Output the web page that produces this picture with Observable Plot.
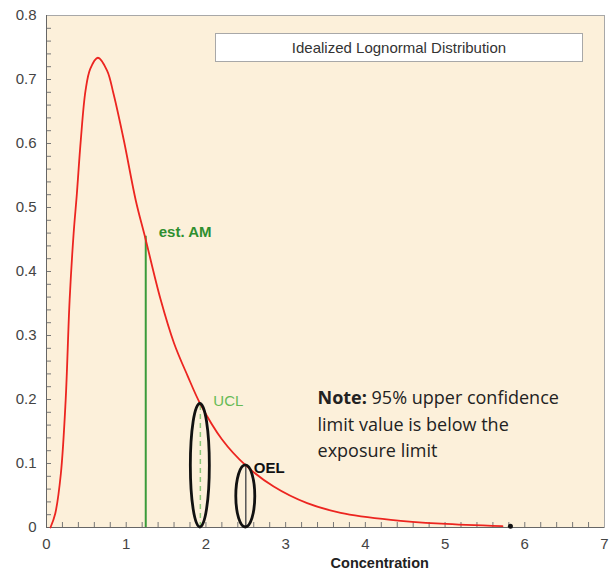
<!DOCTYPE html>
<html><head><meta charset="utf-8">
<script src="https://cdn.jsdelivr.net/npm/d3@7"></script>
<script src="https://cdn.jsdelivr.net/npm/@observablehq/plot@0.6"></script>
<style>
body{margin:0;background:#fff;}
#wrap{position:relative;width:614px;height:573px;}
#legend{position:absolute;left:215px;top:33px;width:366px;height:27px;border:1px solid #a8a8a8;background:#fff;font:15px "Liberation Sans",Arial,sans-serif;color:#333;text-align:center;line-height:27px;}
</style></head><body>
<div id="wrap"></div>
<script>
// Curve points
const curveX = [0.05, 0.11, 0.18, 0.24, 0.29, 0.34, 0.38, 0.43, 0.49, 0.55, 0.645, 0.76, 0.84, 0.97, 1.12, 1.24, 1.43, 1.6, 1.77, 1.93, 2.2, 2.5, 2.85, 3.27, 3.69, 4.32, 4.95, 5.72];
const curveY = [0, 0.022, 0.084, 0.198, 0.355, 0.459, 0.52, 0.605, 0.683, 0.717, 0.734, 0.714, 0.678, 0.605, 0.511, 0.452, 0.357, 0.288, 0.237, 0.193, 0.138, 0.097, 0.064, 0.038, 0.023, 0.012, 0.006, 0.002];

const markerNames = ["est. AM", "UCL", "OEL"];
const markerX = [1.245, 1.93, 2.5];
const markerTop = [0.455, 0.193, 0.097];
const tailDotX = [5.82];
const tailDotY = [0.002];

const xTicks = [0, 1, 2, 3, 4, 5, 6, 7];
const xTickLabels = ["0", "1", "2", "3", "4", "5", "6", "7"];
const yTicks = [0, 0.1, 0.2, 0.3, 0.4, 0.5, 0.6, 0.7, 0.8];
const yTickLabels = ["0", "0.1", "0.2", "0.3", "0.4", "0.5", "0.6", "0.7", "0.8"];
const xMinor = d3.range(0, 36).map(i => i / 5);
const yMinor = d3.range(0, 41).map(i => i / 50);

const legendTitle = "Idealized Lognormal Distribution";
const xLabel = "Concentration";
const noteLines = ["Note: 95% upper confidence", "limit value is below the", "exposure limit"];

const curve = curveX.map((x, i) => ({x, y: curveY[i]}));
const markers = markerNames.map((name, i) => ({name, x: markerX[i], top: markerTop[i]}));
const xLab = new Map(xTicks.map((t, i) => [t, xTickLabels[i]]));
const yLab = new Map(yTicks.map((t, i) => [t, yTickLabels[i]]));

function ellipses(items) {
  return (index, scales) => {
    const g = d3.create("svg:g");
    for (const e of items) {
      const cx = scales.x(e.x), y0 = scales.y(0), y1 = scales.y(e.top);
      g.append("ellipse")
        .attr("cx", cx).attr("cy", (y0 + y1) / 2)
        .attr("rx", 9.5).attr("ry", Math.abs(y0 - y1) / 2)
        .attr("fill", "none").attr("stroke", "#111").attr("stroke-width", 2.8);
    }
    return g.node();
  };
}

const plot = Plot.plot({
  width: 614, height: 573,
  marginLeft: 46, marginRight: 10, marginTop: 15, marginBottom: 46,
  x: {domain: [0, 7]},
  y: {domain: [0, 0.8]},
  style: {fontFamily: "'Liberation Sans', Arial, sans-serif", fontSize: "15px", color: "#444", background: "transparent"},
  marks: [
    Plot.frame({fill: "#fcf0da", stroke: "none"}),
    Plot.axisY(yMinor, {tickSize: -5, text: null, stroke: "#777", label: null}),
    Plot.axisY(yTicks, {tickSize: 0, tickPadding: 10, tickFormat: d => yLab.get(d), label: null}),
    Plot.axisX(xMinor, {tickSize: -5, text: null, stroke: "#777", label: null}),
    Plot.axisX(xTicks, {tickSize: 0, tickPadding: 11, tickFormat: d => xLab.get(d), label: null}),
    Plot.frame({stroke: "#a8a8a8"}),
    Plot.ruleY([0], {stroke: "#666"}),
    Plot.ruleX([0], {stroke: "#666"}),
    Plot.ruleX([markers[0]], {x: "x", y1: 0, y2: "top", stroke: "#3a9b3a", strokeWidth: 2}),
    Plot.ruleX([markers[1]], {x: "x", y1: 0, y2: "top", stroke: "#8cc97a", strokeWidth: 1.5, strokeDasharray: "5,4"}),
    Plot.ruleX([markers[2]], {x: "x", y1: 0, y2: "top", stroke: "#555", strokeWidth: 1.5}),
    Plot.line(curve, {x: "x", y: "y", stroke: "#ec2520", strokeWidth: 1.8, curve: "catmull-rom"}),
    ellipses(markers.slice(1)),
    Plot.dot(tailDotX.map((x, i) => ({x, y: tailDotY[i]})), {x: "x", y: "y", r: 2.5, fill: "#111"}),
    Plot.text([markers[0]], {x: "x", y: "top", text: "name", dx: 13, dy: -4, textAnchor: "start", fill: "#2f8f2f", fontWeight: "bold", fontSize: 15}),
    Plot.text([markers[1]], {x: "x", y: "top", text: "name", dx: 13, dy: -3, textAnchor: "start", fill: "#66bb55", fontSize: 15}),
    Plot.text([markers[2]], {x: "x", y: "top", text: "name", dx: 8, dy: 3, textAnchor: "start", fill: "#111", fontWeight: "bold", fontSize: 15}),
    Plot.text([{x: 3.40, y: 0.222, t: noteLines.join("\n")}], {x: "x", y: "y", text: "t", lineAnchor: "top", textAnchor: "start", fontFamily: "'Open Sans', Lato, sans-serif", fontSize: 18, lineHeight: 1.47, fill: "#222"}),
    Plot.text([{x: 4.18}], {x: "x", text: () => xLabel, frameAnchor: "bottom", dy: 40, fontWeight: "bold", fontSize: 14.5, fill: "#222"})
  ]
});

d3.select(plot).selectAll("tspan").each(function() {
  const s = this.textContent;
  if (s.startsWith("Note:")) {
    const el = d3.select(this);
    el.text(null);
    el.append("tspan").attr("font-weight", "bold").text("Note:");
    el.append("tspan").text(s.slice(5));
  }
});

const wrap = document.getElementById("wrap");
wrap.appendChild(plot);
const lg = document.createElement("div");
lg.id = "legend";
lg.textContent = legendTitle;
wrap.appendChild(lg);
</script>
</body></html>
